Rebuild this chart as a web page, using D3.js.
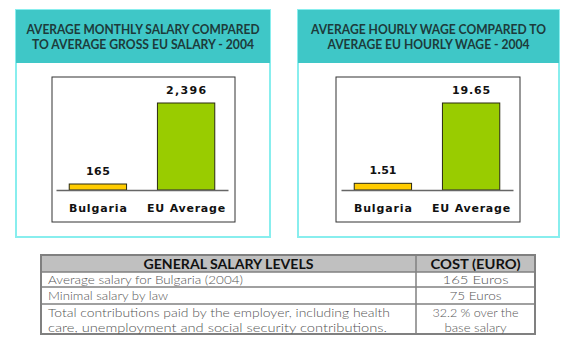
<!DOCTYPE html>
<html>
<head>
<meta charset="utf-8">
<script src="https://cdn.jsdelivr.net/npm/d3@7"></script>
<style>
  html, body { margin: 0; padding: 0; background: #fff; }
  svg { display: block; }
</style>
</head>
<body>
<svg id="chart" width="576" height="350"></svg>
<script>
// ---------- DATA ----------
const categories = ["Bulgaria", "EU Average"];
const monthlySalary = [165, 2396];
const monthlyLabels = ["165", "2,396"];
const hourlyWage = [1.51, 19.65];
const hourlyLabels = ["1.51", "19.65"];
const barColors = ["#ffcc00", "#99cc00"];
const titleMonthly = ["AVERAGE MONTHLY SALARY COMPARED", "TO AVERAGE GROSS EU SALARY - 2004"];
const titleHourly = ["AVERAGE HOURLY WAGE COMPARED TO", "AVERAGE EU HOURLY WAGE - 2004"];
const tableHeader = ["GENERAL SALARY LEVELS", "COST (EURO)"];
const tableRowsLeft = [
  ["Average salary for Bulgaria (2004)"],
  ["Minimal salary by law"],
  ["Total contributions paid by the employer, including health", "care, unemployment and social security contributions."]
];
const tableRowsRight = [
  ["165 Euros"],
  ["75 Euros"],
  ["32.2 % over the", "base salary"]
];

// ---------- DRAW ----------
const svg = d3.select("#chart");
svg.append("rect").attr("width", 576).attr("height", 350).attr("fill", "#fff");

function drawPanel(cfg) {
  const g = svg.append("g");
  // outer panel
  g.append("rect")
    .attr("x", cfg.px).attr("y", 10).attr("width", cfg.pw).attr("height", 227)
    .attr("fill", "#fff").attr("stroke", "#88eeee").attr("stroke-width", 2);
  // header band
  g.append("rect")
    .attr("x", cfg.px).attr("y", 10).attr("width", cfg.pw).attr("height", 53)
    .attr("fill", "#3fc7c7");
  const cx = cfg.px + cfg.pw / 2;
  cfg.title.forEach((t, i) => {
    g.append("text")
      .attr("x", cx).attr("y", 34 + i * 15)
      .attr("text-anchor", "middle")
      .attr("font-family", "Lato, 'DejaVu Sans', sans-serif")
      .attr("font-weight", 700)
      .attr("font-size", 12.5)
      .attr("fill", "#1d3b3b")
      .attr("textLength", cfg.titleW[i])
      .attr("lengthAdjust", "spacingAndGlyphs")
      .text(t);
  });
  // inner chart box
  g.append("rect")
    .attr("x", cfg.bx).attr("y", 77).attr("width", cfg.bw).attr("height", 145)
    .attr("fill", "#fff").attr("stroke", "#333").attr("stroke-width", 1);

  const x = d3.scaleBand().domain(categories)
    .range([cfg.ax0, cfg.ax1]).paddingInner(0.35).paddingOuter(0.15);
  const y = d3.scaleLinear().domain([0, d3.max(cfg.values)]).range([190, 103]);

  // bars
  g.selectAll("rect.bar").data(cfg.values).enter().append("rect")
    .attr("class", "bar")
    .attr("x", (d, i) => x(categories[i]))
    .attr("y", d => y(d))
    .attr("width", x.bandwidth())
    .attr("height", d => y(0) - y(d))
    .attr("fill", (d, i) => barColors[i])
    .attr("stroke", "#2a2a10").attr("stroke-width", 1);

  // baseline axis
  const axis = d3.axisBottom(x).tickSize(0).tickFormat("");
  const ag = g.append("g").attr("transform", `translate(0,${y(0)})`).call(axis);
  ag.select(".domain").attr("stroke", "#666").attr("stroke-width", 1.5);

  // category labels
  g.selectAll("text.cat").data(categories).enter().append("text")
    .attr("class", "cat")
    .attr("x", d => x(d) + x.bandwidth() / 2)
    .attr("y", 212)
    .attr("text-anchor", "middle")
    .attr("font-family", "'DejaVu Sans', sans-serif")
    .attr("font-weight", 700)
    .attr("font-size", 11)
    .attr("fill", "#111")
    .attr("textLength", (d, i) => [58, 78][i])
    .attr("lengthAdjust", "spacing")
    .text(d => d);

  // value labels
  g.selectAll("text.val").data(cfg.values).enter().append("text")
    .attr("class", "val")
    .attr("x", (d, i) => x(categories[i]) + x.bandwidth() / 2)
    .attr("y", d => y(d) - 9.5)
    .attr("text-anchor", "middle")
    .attr("font-family", "'DejaVu Sans', sans-serif")
    .attr("font-weight", 700)
    .attr("font-size", 11)
    .attr("fill", "#111")
    .attr("textLength", (d, i) => cfg.labelW[i])
    .attr("lengthAdjust", "spacing")
    .text((d, i) => cfg.labels[i]);
}

drawPanel({
  px: 16, pw: 254, bx: 52, bw: 183, ax0: 56, ax1: 228,
  title: titleMonthly, titleW: [233, 222],
  values: monthlySalary, labels: monthlyLabels, labelW: [24, 40]
});
drawPanel({
  px: 298, pw: 261, bx: 336, bw: 184, ax0: 341, ax1: 513,
  title: titleHourly, titleW: [235, 202],
  values: hourlyWage, labels: hourlyLabels, labelW: [27, 38]
});

// ---------- TABLE ----------
const T = { x0: 41, x1: 535, xm: 416, y0: 255, yh: 272, rows: [287, 304, 334] };
const tg = svg.append("g");
tg.append("rect").attr("x", T.x0).attr("y", T.y0).attr("width", T.x1 - T.x0).attr("height", T.yh - T.y0)
  .attr("fill", "#c0c0c0");
const lineC = "#808080";
// horizontal lines
[T.yh].concat(T.rows.slice(0, 2)).forEach(yv => {
  tg.append("line").attr("x1", T.x0).attr("x2", T.x1).attr("y1", yv).attr("y2", yv)
    .attr("stroke", lineC).attr("stroke-width", 1.5);
});
tg.append("line").attr("x1", T.xm).attr("x2", T.xm).attr("y1", T.y0).attr("y2", T.rows[2])
  .attr("stroke", lineC).attr("stroke-width", 1.5);
tg.append("rect").attr("x", T.x0).attr("y", T.y0).attr("width", T.x1 - T.x0).attr("height", T.rows[2] - T.y0)
  .attr("fill", "none").attr("stroke", lineC).attr("stroke-width", 2);

tg.selectAll("text.th").data(tableHeader).enter().append("text")
  .attr("x", (d, i) => i === 0 ? (T.x0 + T.xm) / 2 : (T.xm + T.x1) / 2)
  .attr("y", 268.5)
  .attr("text-anchor", "middle")
  .attr("font-family", "Lato, sans-serif")
  .attr("font-weight", 700)
  .attr("font-size", 13.5)
  .attr("fill", "#111")
  .attr("textLength", (d, i) => [170, 90][i])
  .attr("lengthAdjust", "spacingAndGlyphs")
  .text(d => d);

const rowTops = [T.yh, T.rows[0], T.rows[1]];
const leftW = [[195], [120], [342, 339]];
const rightW = [[66], [52], [86, 62]];
tableRowsLeft.forEach((lines, r) => {
  lines.forEach((t, k) => {
    tg.append("text")
      .attr("x", 48)
      .attr("y", (lines.length === 1 ? (rowTops[r] + (T.rows[r])) / 2 + 4.5 : [317, 332][k]))
      .attr("font-family", "Lato, sans-serif")
      .attr("font-weight", 300)
      .attr("font-size", 12.5)
      .attr("fill", "#555")
      .attr("textLength", leftW[r][k])
      .attr("lengthAdjust", "spacingAndGlyphs")
      .text(t);
  });
});
tableRowsRight.forEach((lines, r) => {
  lines.forEach((t, k) => {
    tg.append("text")
      .attr("x", (T.xm + T.x1) / 2)
      .attr("y", (lines.length === 1 ? (rowTops[r] + (T.rows[r])) / 2 + 4.5 : [317, 332][k]))
      .attr("text-anchor", "middle")
      .attr("font-family", "Lato, sans-serif")
      .attr("font-weight", 300)
      .attr("font-size", 12.5)
      .attr("fill", "#555")
      .attr("textLength", rightW[r][k])
      .attr("lengthAdjust", "spacingAndGlyphs")
      .text(t);
  });
});
</script>
</body>
</html>
